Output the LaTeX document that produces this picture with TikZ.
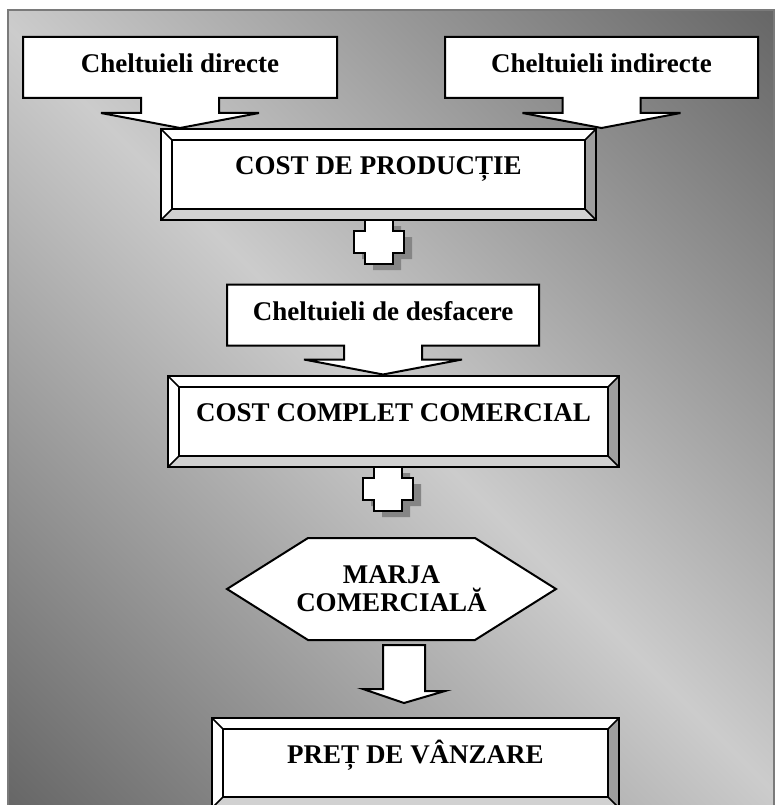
\documentclass[tikz,border=0pt]{standalone}
\usepackage{fontspec}
\setmainfont{Liberation Serif}
\usetikzlibrary{shadows}

\pgfdeclarelayer{background}
\pgfsetlayers{background,main}

\definecolor{bgdark}{gray}{0.40}
\definecolor{bglight}{gray}{0.80}
\definecolor{framegray}{gray}{0.48}
\definecolor{bevelside}{gray}{0.62}
\definecolor{bevelbottom}{gray}{0.82}
\definecolor{plusshadow}{gray}{0.52}

\begin{document}
\begin{tikzpicture}[
    x=1pt, y=-1pt,
    font=\fontsize{27}{28}\selectfont\bfseries,
    callnode/.style={rectangle, inner sep=0pt, outer sep=0pt, minimum height=61pt,
                     text height=18pt, text depth=7pt},
    callshape/.style={draw=black, fill=white, line width=2pt, line join=miter},
    costbox/.style={rectangle, draw=black, fill=white, line width=2pt, inner sep=0pt, outer sep=0pt,
                    minimum height=91pt, text height=18pt, text depth=18pt,
                    path picture={
                      \coordinate (nw) at (path picture bounding box.north west);
                      \coordinate (ne) at (path picture bounding box.north east);
                      \coordinate (sw) at (path picture bounding box.south west);
                      \coordinate (se) at (path picture bounding box.south east);
                      \fill[bevelside] (ne) -- (se) -- ([shift={(-11,-11)}]se) -- ([shift={(-11,11)}]ne) -- cycle;
                      \fill[bevelbottom] (sw) -- (se) -- ([shift={(-11,-11)}]se) -- ([shift={(11,-11)}]sw) -- cycle;
                      \draw[line width=1.5pt] (nw) -- ++(11,11) (ne) -- ++(-11,11)
                                              (sw) -- ++(11,-11) (se) -- ++(-11,-11);
                      \draw[line width=2pt] ([shift={(11,11)}]nw) rectangle ([shift={(-11,-11)}]se);
                    }},
    hexnode/.style={inner sep=0pt, outer sep=0pt, minimum width=329pt, minimum height=102pt, align=center},
    plussign/.style={draw=black, fill=white, line width=2pt, line join=miter,
                     drop shadow={shadow xshift=8pt, shadow yshift=-6pt, fill=plusshadow, opacity=1}},
    blockarrow/.style={draw=black, fill=white, line width=2pt, line join=miter}
]

\useasboundingbox (0,0) rectangle (776,805);

% Expenses
\node[callnode, minimum width=314pt] (direct) at (180,67.5) {Cheltuieli directe};
\node[callnode, minimum width=313pt] (indirect) at (601.5,67.5) {Cheltuieli indirecte};

% Production cost
\node[costbox, minimum width=435pt] (prodcost) at (378.5,174.5) {COST DE PRODUCȚIE};

% Selling expenses
\node[callnode, minimum width=312pt] (selling) at (383,315) {Cheltuieli de desfacere};

% Full commercial cost
\node[costbox, minimum width=451pt] (fullcost) at (393.5,421.5) {COST COMPLET COMERCIAL};

% Margin
\node[hexnode] (margin) at (391.5,589) {MARJA\\COMERCIALĂ};

% Selling price
\node[costbox, minimum width=407pt, minimum height=90pt] (price) at (415.5,763) {PREȚ DE VÂNZARE};

% Plus signs
\coordinate (plusA) at ([shift={(0.5,22)}]prodcost.south);
\coordinate (plusB) at ([shift={(-5.5,22)}]fullcost.south);
\draw[plussign] ([shift={(-14,-22)}]plusA) -- ++(28,0) -- ++(0,11) -- ++(11,0) -- ++(0,22)
    -- ++(-11,0) -- ++(0,11) -- ++(-28,0) -- ++(0,-11) -- ++(-11,0) -- ++(0,-22) -- ++(11,0) -- cycle;
\draw[plussign] ([shift={(-14,-22)}]plusB) -- ++(28,0) -- ++(0,11) -- ++(11,0) -- ++(0,22)
    -- ++(-11,0) -- ++(0,11) -- ++(-28,0) -- ++(0,-11) -- ++(-11,0) -- ++(0,-22) -- ++(11,0) -- cycle;

% Arrow to the price
\draw[blockarrow] ([shift={(-8.5,5)}]margin.south) -- ++(42,0) -- ++(0,46) -- ++(20,0)
    -- ([shift={(-11.5,-15)}]price.north) -- ++(-41,-14) -- ++(20,0) -- cycle;

\begin{pgfonlayer}{background}
% Diagonal gradient inside the frame
\begin{scope}
  \clip (8,10) rectangle (774,808);
  \begin{scope}[transform canvas={rotate around={-45:(391,409)}}]
    \shade[top color=bgdark, bottom color=bgdark, middle color=bglight]
      (-162,-144) rectangle (944,962);
  \end{scope}
\end{scope}
\draw[framegray, line width=2pt] (8,10) rectangle (774,808);

% Callout outlines
\draw[callshape] (direct.north west) -- (direct.north east) -- (direct.south east)
    -- ([shift={(39,0)}]direct.south) -- ++(0,15) -- ++(40,0) -- ([shift={(0,30)}]direct.south)
    -- ++(-79,-15) -- ++(40,0) -- ++(0,-15) -- (direct.south west) -- cycle;
\draw[callshape] (indirect.north west) -- (indirect.north east) -- (indirect.south east)
    -- ([shift={(39,0)}]indirect.south) -- ++(0,15) -- ++(40,0) -- ([shift={(0,30)}]indirect.south)
    -- ++(-79,-15) -- ++(40,0) -- ++(0,-15) -- (indirect.south west) -- cycle;
\draw[callshape] (selling.north west) -- (selling.north east) -- (selling.south east)
    -- ([shift={(39,0)}]selling.south) -- ++(0,14) -- ++(40,0) -- ([shift={(0,29)}]selling.south)
    -- ++(-79,-15) -- ++(40,0) -- ++(0,-14) -- (selling.south west) -- cycle;

% Hexagon
\draw[callshape] (margin.west) -- ([shift={(81,0)}]margin.north west) -- ([shift={(-81,0)}]margin.north east)
    -- (margin.east) -- ([shift={(-81,0)}]margin.south east) -- ([shift={(81,0)}]margin.south west) -- cycle;
\end{pgfonlayer}

\end{tikzpicture}
\end{document}
